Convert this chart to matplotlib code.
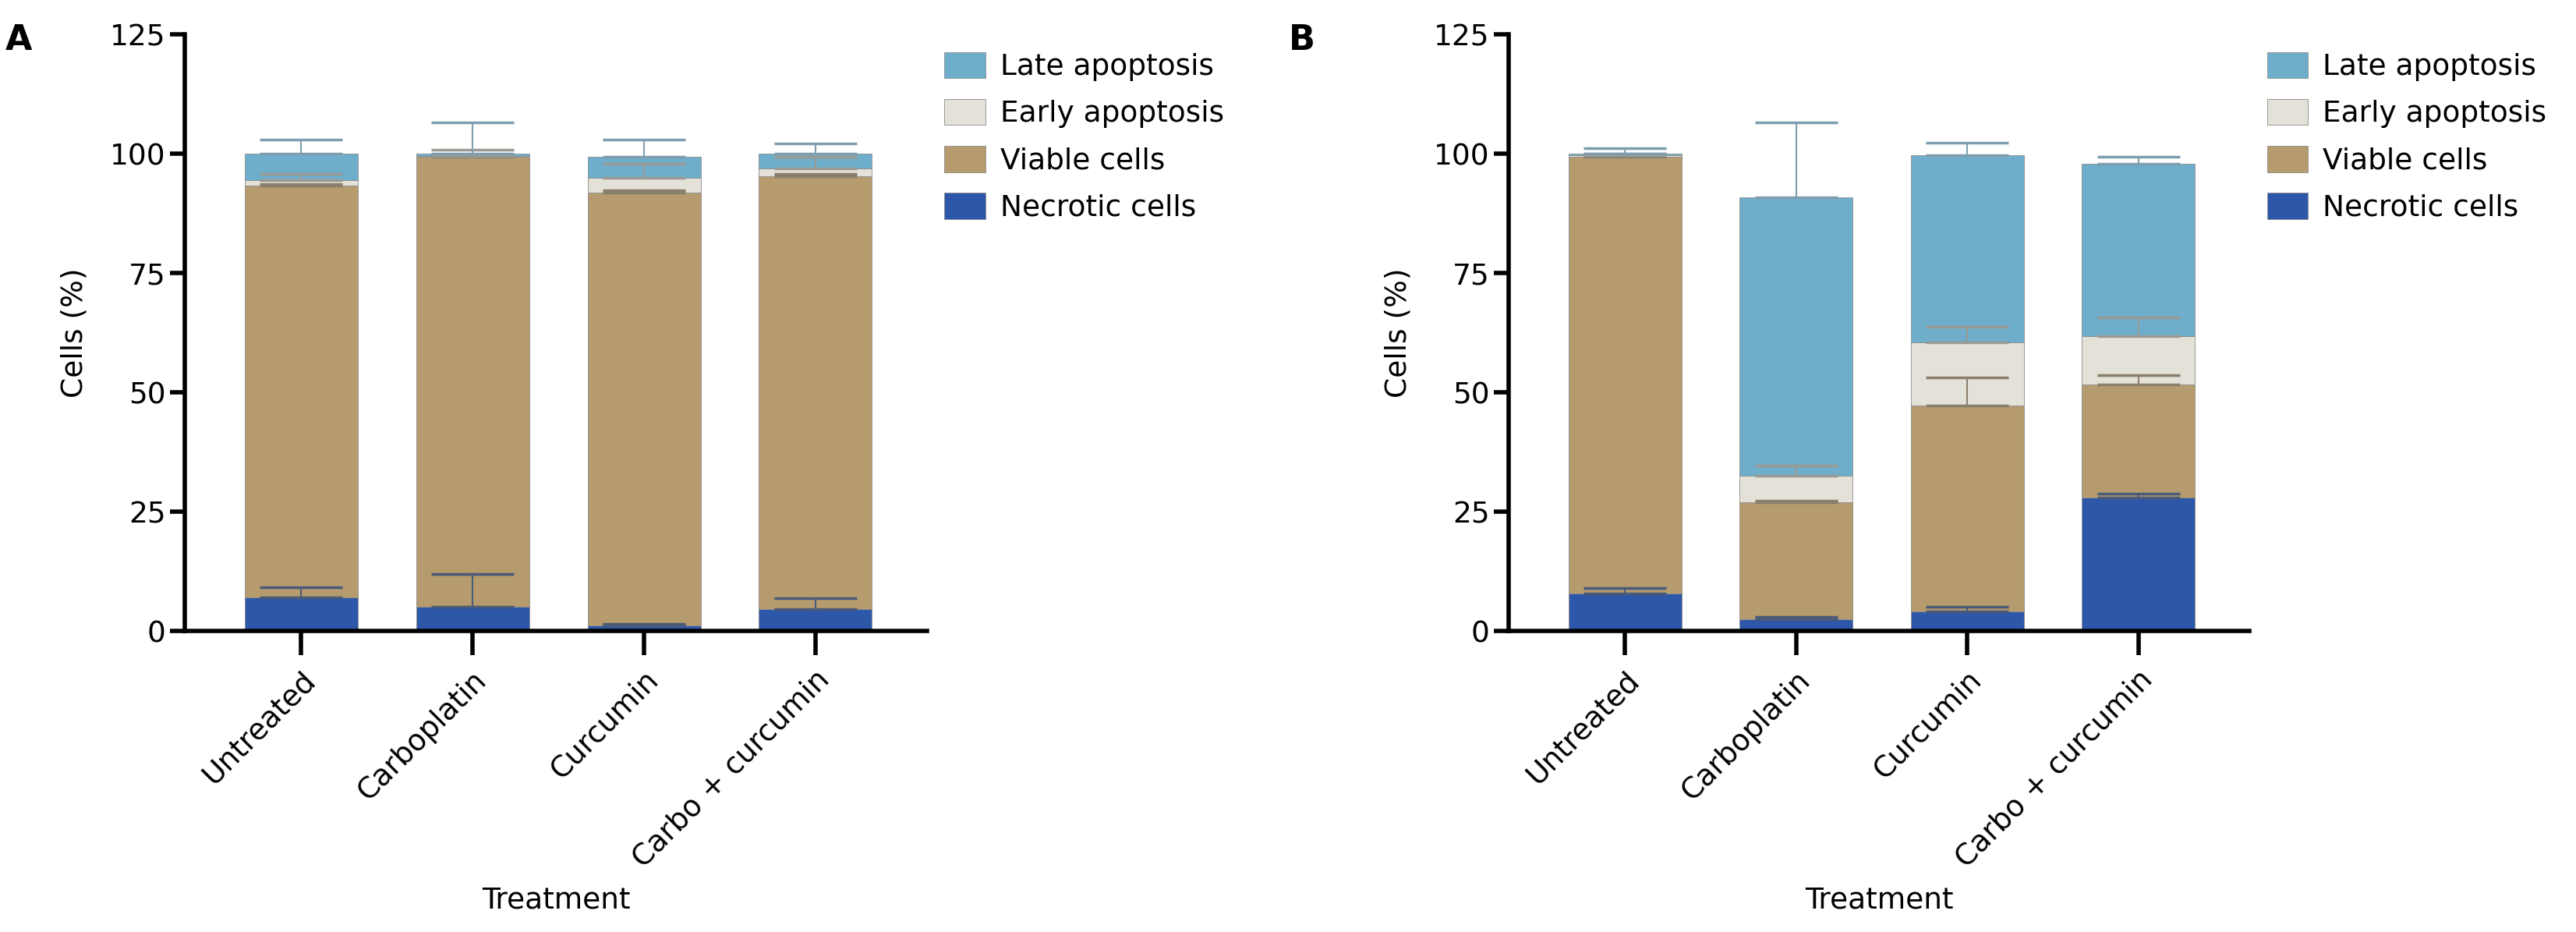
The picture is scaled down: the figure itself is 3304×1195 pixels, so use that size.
import matplotlib
matplotlib.use("Agg")
import matplotlib.pyplot as plt
import numpy as np

plt.rcParams['font.family'] = ['DejaVu Sans']

categories = ["Untreated", "Carboplatin", "Curcumin", "Carbo + curcumin"]
series = ["Necrotic cells", "Viable cells", "Early apoptosis", "Late apoptosis"]

# Panel A (segment heights) and upper error lengths
a_necrotic = [7.1, 5.1, 1.1, 4.6]
a_viable = [86.2, 94.2, 90.8, 90.7]
a_early = [1.2, 0.3, 3.1, 1.7]
a_late = [5.5, 0.4, 4.3, 3.0]
a_necrotic_err = [2.0, 6.9, 0.3, 2.3]
a_viable_err = [0.3, 0.3, 0.5, 0.4]
a_early_err = [1.3, 1.2, 2.9, 2.3]
a_late_err = [3.0, 6.6, 3.7, 2.1]

# Panel B
b_necrotic = [7.9, 2.4, 4.1, 28.0]
b_viable = [91.5, 24.6, 43.1, 23.6]
b_early = [0.3, 5.6, 13.3, 10.2]
b_late = [0.3, 58.3, 39.2, 36.1]
b_necrotic_err = [1.1, 0.6, 0.9, 0.8]
b_viable_err = [0.2, 0.3, 5.9, 2.0]
b_early_err = [0.4, 2.0, 3.3, 3.9]
b_late_err = [1.2, 15.6, 2.6, 1.5]

colors = {"Necrotic cells": "#2d57a8", "Viable cells": "#b59b6d",
          "Early apoptosis": "#e4e1d8", "Late apoptosis": "#6eaecb"}
err_colors = {"Necrotic cells": "#4a5a78", "Viable cells": "#8a7f6d",
              "Early apoptosis": "#9a9a94", "Late apoptosis": "#7e9eb0"}

fig = plt.figure(figsize=(33.05, 11.95), dpi=100)
FS = 27

def panel(rect, data, errs, letter, letter_x):
    ax = fig.add_axes(rect)
    x = np.arange(len(categories))
    bottom = np.zeros(len(categories))
    handles = {}
    for name, vals, er in zip(series, data, errs):
        vals = np.array(vals)
        h = ax.bar(x, vals, 0.66, bottom=bottom, color=colors[name],
                   edgecolor="#8c8c8c", linewidth=0.6, label=name, zorder=2)
        handles[name] = h
        top = bottom + vals
        ax.errorbar(x, top, yerr=[np.zeros(len(x)), er], fmt='none',
                    ecolor=err_colors[name], elinewidth=1.5, capsize=38,
                    capthick=2.5, zorder=3)
        bottom = top
    ax.set_ylim(0, 125)
    ax.set_xlim(-0.68, 3.65)
    ax.set_yticks([0, 25, 50, 75, 100, 125])
    ax.set_xticks(x)
    ax.set_xticklabels(categories, rotation=45, ha='right', rotation_mode='anchor')
    ax.tick_params(axis='both', labelsize=FS, width=4, length=14, colors='black')
    ax.tick_params(axis='x', length=22, pad=10)
    for s in ['top', 'right']:
        ax.spines[s].set_visible(False)
    for s in ['left', 'bottom']:
        ax.spines[s].set_linewidth(4)
    ax.set_ylabel("Cells (%)", fontsize=FS, labelpad=20)
    ax.set_xlabel("Treatment", fontsize=FS, labelpad=12)
    order = ["Late apoptosis", "Early apoptosis", "Viable cells", "Necrotic cells"]
    ax.legend([handles[n] for n in order], order, loc='upper left',
              bbox_to_anchor=(1.0, 1.0), frameon=False, fontsize=FS,
              handlelength=1.4, handleheight=1.0, labelspacing=0.6,
              handletextpad=0.5, borderaxespad=0.2)
    fig.text(letter_x, 0.975, letter, fontsize=32, fontweight='bold', va='top')
    return ax

panel([0.0717, 0.323, 0.288, 0.640],
      [a_necrotic, a_viable, a_early, a_late],
      [a_necrotic_err, a_viable_err, a_early_err, a_late_err], "A", 0.002)
panel([0.5855, 0.323, 0.2875, 0.640],
      [b_necrotic, b_viable, b_early, b_late],
      [b_necrotic_err, b_viable_err, b_early_err, b_late_err], "B", 0.5)

fig.savefig("out.png", dpi=100)
